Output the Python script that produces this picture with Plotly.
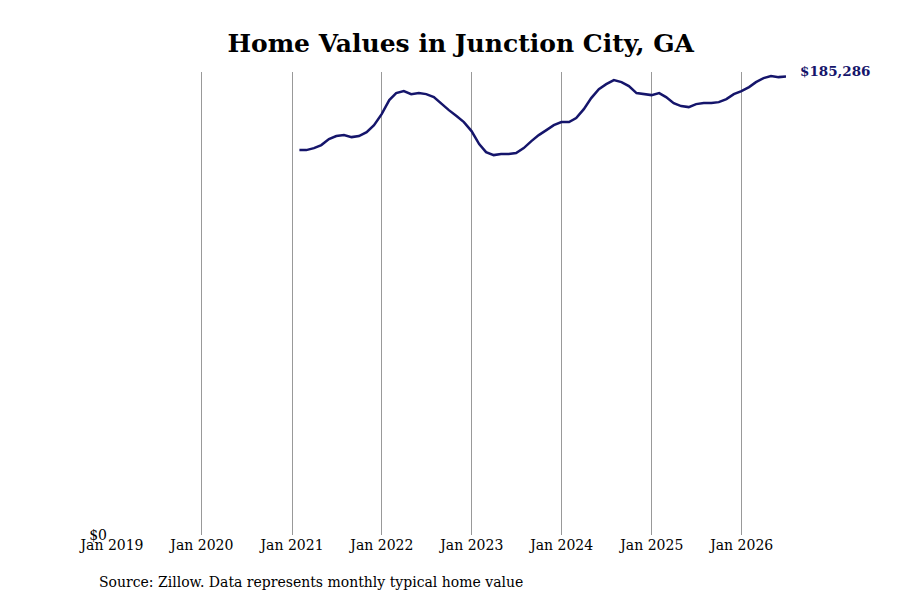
import pandas as pd
import plotly.graph_objects as go

# Zillow monthly typical home value, Junction City GA (month-end dates)
dates = pd.date_range("2021-01-31", periods=66, freq="ME")
values = [
    155540, 155540, 156350, 157560, 159980, 161200, 161600, 160790, 161200, 162810, 165640, 170080,
    175740, 178570, 179380, 178160, 178570, 178160, 176950, 174120, 171700, 169280, 166850, 163220,
    157960, 154730, 153520, 153920, 153920, 154330, 156350, 159180, 161600, 163620, 165640, 166850,
    166850, 168470, 172100, 176550, 180180, 182200, 183820, 183010, 181400, 178570, 178160, 177760,
    178570, 176950, 174530, 173320, 172910, 174120, 174530, 174530, 174930, 176140, 178160, 179380,
    181000, 183010, 184630, 185440, 185030, 185286,
]
tick_dates = ["2019-01-01", "2020-01-01", "2021-01-01", "2022-01-01",
              "2023-01-01", "2024-01-01", "2025-01-01", "2026-01-01"]
tick_labels = ["Jan 2019", "Jan 2020", "Jan 2021", "Jan 2022",
               "Jan 2023", "Jan 2024", "Jan 2025", "Jan 2026"]

navy = "#15156b"
serif = "DejaVu Serif"

fig = go.Figure()
fig.add_trace(go.Scatter(
    x=dates, y=values, mode="lines",
    line=dict(color=navy, width=2.5),
    hovertemplate="%{x|%b %Y}: $%{y:,.0f}<extra></extra>",
))

# label for the latest value
fig.add_annotation(
    x=dates[-1], y=values[-1], text=f"<b>${values[-1]:,}</b>",
    showarrow=False, xanchor="left", xshift=12, yshift=5,
    font=dict(family=serif, size=13.5, color=navy),
)
fig.add_annotation(
    xref="paper", yref="paper", x=-0.022, y=-0.1015,
    text="Source: Zillow. Data represents monthly typical home value",
    showarrow=False, xanchor="left", yanchor="middle",
    font=dict(family=serif, size=14, color="black"),
)

fig.update_layout(
    width=900, height=600,
    margin=dict(l=104, r=122, t=64, b=73),
    paper_bgcolor="white", plot_bgcolor="white",
    showlegend=False,
    font=dict(family=serif, size=14, color="black"),
    title=dict(text="<b>Home Values in Junction City, GA</b>", x=0.503, xanchor="center",
               y=0.942, yanchor="middle", font=dict(family=serif, size=25, color="black")),
    xaxis=dict(
        range=["2019-01-01", "2026-06-30"], tickvals=tick_dates, ticktext=tick_labels,
        showgrid=True, gridcolor="#999999", gridwidth=1, zeroline=False, showline=False,
        ticks="", tickfont=dict(family=serif, size=14, color="black"),
    ),
    yaxis=dict(
        range=[0, 187100], tickvals=[0], ticktext=["$0"], showgrid=False,
        zeroline=False, showline=False, ticks="", ticklabelstandoff=4,
        tickfont=dict(family=serif, size=14, color="black"),
    ),
)

fig.write_html("out.html")
